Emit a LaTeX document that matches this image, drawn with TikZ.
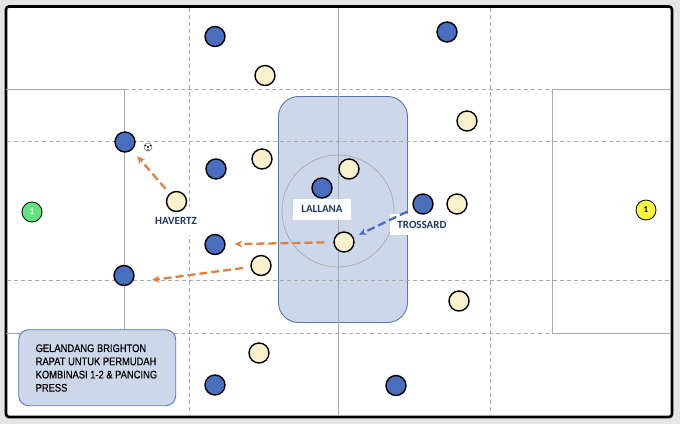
\documentclass[tikz,border=0pt]{standalone}
\usepackage{fontspec}
\setmainfont{Carlito}
\newfontfamily\notefont[FakeStretch=0.85,FakeBold=0.25]{Liberation Sans}
\definecolor{pitchLine}{HTML}{A9A9A9}
\definecolor{zoneFill}{HTML}{CDD7EA}
\definecolor{zoneEdge}{HTML}{5A76AD}
\definecolor{homeBlue}{HTML}{4A6EBE}
\definecolor{awayCream}{HTML}{FBF0CC}
\definecolor{keeperGreen}{HTML}{63E27F}
\definecolor{keeperYellow}{HTML}{F7F73C}
\definecolor{runOrange}{HTML}{E0803F}
\definecolor{runBlue}{HTML}{4A6EBE}
\definecolor{nameNavy}{HTML}{1F3864}
\usetikzlibrary{arrows.meta}

\begin{document}
\begin{tikzpicture}[x=1pt, y=-1pt,
    solidln/.style={draw=pitchLine, line width=0.9pt},
    dashln/.style={draw=pitchLine, line width=0.9pt, dash pattern=on 4pt off 3pt},
    zone/.style={draw=zoneEdge, line width=0.9pt, fill=zoneFill},
    bluep/.style={circle, draw=black, line width=1.4pt, fill=homeBlue, minimum size=20pt, inner sep=0pt},
    creamp/.style={circle, draw=black, line width=1.4pt, fill=awayCream, minimum size=20pt, inner sep=0pt},
    keeper/.style={circle, draw=black, line width=0.8pt, minimum size=20pt, inner sep=0pt, font=\bfseries\fontsize{9}{9}\selectfont},
    lbl/.style={fill=white, text=nameNavy, inner sep=0pt, align=center, font=\bfseries\fontsize{11}{11}\selectfont},
    arrO/.style={-{Stealth[length=7.5pt,width=7pt]}, runOrange, line width=2.3pt, dash pattern=on 8pt off 4pt},
    arrB/.style={-{Stealth[length=7.5pt,width=7pt]}, runBlue, line width=2.3pt, dash pattern=on 8pt off 4pt}
  ]
    \useasboundingbox (0,0) rectangle (680,424);
    \fill[black!10] (0,0) rectangle (680,424);
    \draw[black, fill=white, line width=2.6pt, rounded corners=3pt] (6,6.5) rectangle (672,417);
    % middle zone
    \draw[zone, rounded corners=20pt] (278.5,96.5) rectangle (407.5,322.5);
    % pitch
    \draw[solidln] (6,89.5) -- (124.5,89.5) -- (124.5,333) -- (6,333);
    \draw[solidln] (670,89.5) -- (552.5,89.5) -- (552.5,333) -- (670,333);
    \draw[solidln] (338,8) -- (338,416);
    \draw[dashln] (124.5,89.5) -- (552.5,89.5);
    \draw[dashln] (124.5,333) -- (552.5,333);
    \draw[dashln] (7,141) -- (670,141);
    \draw[dashln] (7,280) -- (670,280);
    \draw[dashln] (189,8) -- (189,416);
    \draw[dashln] (490,8) -- (490,416);
    \draw[pitchLine, line width=0.7pt] (338,211) circle (56);
    % text boxes
    \node[lbl, minimum width=50pt, minimum height=28pt] (havertz) at (176,221) {HAVERTZ};
    \node[lbl, minimum width=58pt, minimum height=21pt] (lallana) at (322,209) {LALLANA};
    \node[lbl, minimum width=58pt, minimum height=21pt] (trossard) at (419,224.5) {\hspace*{6pt}TROSSARD};
    \node[zone, rounded corners=10pt, minimum width=157pt, minimum height=76pt, inner sep=0pt] (note) at (97.2,367.7) {};
    \node[anchor=west, align=left, inner sep=0pt, font=\notefont\fontsize{11}{13.2}\selectfont] (notetxt) at (35.5,368) {GELANDANG BRIGHTON\\RAPAT UNTUK PERMUDAH\\KOMBINASI 1-2 \& PANCING\\PRESS};
    % blue team
    \node[bluep] (b1) at (215,36.5) {};
    \node[bluep] (b2) at (447,32) {};
    \node[bluep] (b3) at (125,142) {};
    \node[bluep] (b4) at (216,169) {};
    \node[bluep] (b5) at (322,188) {};
    \node[bluep] (b6) at (423,204) {};
    \node[bluep] (b7) at (215,244.5) {};
    \node[bluep] (b8) at (124,275.5) {};
    \node[bluep] (b9) at (215,385) {};
    \node[bluep] (b10) at (396,385.5) {};
    % cream team
    \node[creamp] (c1) at (265,75.5) {};
    \node[creamp] (c2) at (467,121) {};
    \node[creamp] (c3) at (262,159) {};
    \node[creamp] (c4) at (349,169) {};
    \node[creamp] (c5) at (176.5,201.5) {};
    \node[creamp] (c6) at (457,204) {};
    \node[creamp] (c7) at (344,242) {};
    \node[creamp] (c8) at (261,265.5) {};
    \node[creamp] (c9) at (459,301) {};
    \node[creamp] (c10) at (259,353) {};
    % keepers
    \node[keeper, fill=keeperGreen, text=white] (gk1) at (32,212) {1};
    \node[keeper, fill=keeperYellow] (gk2) at (646,210) {1};
    % ball
    \node[circle, draw=black!60, line width=0.5pt, fill=white, minimum size=8pt, inner sep=0pt] (ball) at (148,147) {};
    \fill[black] (ball.center) circle (1.2);
    \foreach \a in {90,210,330}
      \fill[black] (ball.center) ++(\a:3) circle (0.9);
    % runs
    \coordinate (runtail) at (243,268);
    \coordinate (runtip) at (152,280);
    \draw[arrO, shorten <=6pt, shorten >=8pt] (c5) -- (b3);
    \draw[arrO, shorten <=9pt, shorten >=9pt] (c7) -- (b7);
    \draw[arrO] (runtail) -- (runtip);
    \draw[arrB, shorten <=7pt, shorten >=6pt] (b6) -- (c7);
  \end{tikzpicture}
\end{document}
